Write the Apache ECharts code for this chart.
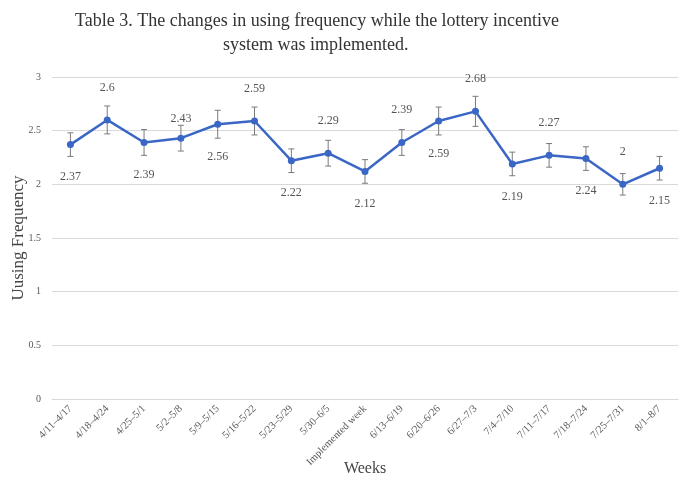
<!DOCTYPE html>
<html>
<head>
<meta charset="utf-8">
<script src="https://cdn.jsdelivr.net/npm/echarts@6/dist/echarts.min.js"></script>
<style>
  html, body { margin: 0; padding: 0; background: #fff; }
  #chart { width: 693px; height: 482px; }
</style>
</head>
<body>
<div id="chart"></div>
<script>
const weeks = ['4/11–4/17', '4/18–4/24', '4/25–5/1', '5/2–5/8', '5/9–5/15', '5/16–5/22', '5/23–5/29',
  '5/30–6/5', 'Implemented week', '6/13–6/19', '6/20–6/26', '6/27–7/3', '7/4–7/10', '7/11–7/17',
  '7/18–7/24', '7/25–7/31', '8/1–8/7'];
const means = [2.37, 2.6, 2.39, 2.43, 2.56, 2.59, 2.22, 2.29, 2.12, 2.39, 2.59, 2.68, 2.19, 2.27, 2.24, 2, 2.15];
// half-length of each error bar
const errors = [0.11, 0.13, 0.12, 0.12, 0.13, 0.13, 0.11, 0.12, 0.11, 0.12, 0.13, 0.14, 0.11, 0.11, 0.11, 0.10, 0.11];
const yTicks = [0, 0.5, 1, 1.5, 2, 2.5, 3];

const serif = '"Liberation Serif", "DejaVu Serif", serif';
const lineColor = '#3a67c5';

const chart = echarts.init(document.getElementById('chart'));

const errorData = means.map((m, i) => [i, m - errors[i], m + errors[i]]);

chart.setOption({
  backgroundColor: '#ffffff',
  animation: false,
  title: [
    {
      text: 'Table 3. The changes in using frequency while the lottery incentive',
      left: 70, top: 7,
      textStyle: { fontFamily: serif, fontSize: 18, fontWeight: 'normal', color: '#333' }
    },
    {
      text: 'system was implemented.',
      left: 218, top: 31,
      textStyle: { fontFamily: serif, fontSize: 18, fontWeight: 'normal', color: '#333' }
    }
  ],
  grid: { left: 52, right: 15, top: 77, bottom: 83, outerBoundsMode: 'none', containLabel: false },
  xAxis: {
    type: 'category',
    data: weeks,
    boundaryGap: true,
    name: 'Weeks',
    nameLocation: 'middle',
    nameGap: 62,
    nameMoveOverlap: false,
    nameTextStyle: { fontFamily: serif, fontSize: 16, color: '#444' },
    axisLine: { lineStyle: { color: '#d9d9d9', width: 1 } },
    axisTick: { show: false },
    axisLabel: {
      rotate: 45, interval: 0, margin: 8,
      fontFamily: serif, fontSize: 10.5, color: '#595959'
    }
  },
  yAxis: {
    type: 'value',
    min: 0, max: 3, interval: 0.5,
    name: 'Uusing Frequency',
    nameLocation: 'middle',
    nameGap: 25,
    nameMoveOverlap: false,
    nameTextStyle: { fontFamily: serif, fontSize: 17, color: '#444' },
    axisLine: { show: false },
    axisTick: { show: false },
    splitLine: { lineStyle: { color: '#d9d9d9', width: 1 } },
    axisLabel: {
      margin: 11, fontFamily: serif, fontSize: 10, color: '#595959',
      formatter: v => (yTicks.includes(v) ? String(v) : '')
    }
  },
  series: [
    {
      type: 'custom',
      z: 1,
      data: errorData,
      renderItem: function (params, api) {
        const x = api.value(0);
        const lo = api.coord([x, api.value(1)]);
        const hi = api.coord([x, api.value(2)]);
        const cap = 3;
        const style = { stroke: '#7a7a7a', lineWidth: 1 };
        return {
          type: 'group',
          children: [
            { type: 'line', shape: { x1: hi[0], y1: hi[1], x2: lo[0], y2: lo[1] }, style: style },
            { type: 'line', shape: { x1: hi[0] - cap, y1: hi[1], x2: hi[0] + cap, y2: hi[1] }, style: style },
            { type: 'line', shape: { x1: lo[0] - cap, y1: lo[1], x2: lo[0] + cap, y2: lo[1] }, style: style }
          ]
        };
      }
    },
    {
      type: 'line',
      z: 2,
      symbol: 'circle',
      symbolSize: 7,
      lineStyle: { color: lineColor, width: 2.5 },
      itemStyle: { color: lineColor },
      data: means.map((v, i) => ({
        value: v,
        label: {
          show: true,
          position: i % 2 === 0 ? 'bottom' : 'top',
          distance: i === 3 ? 10 : 23
        }
      })),
      label: {
        fontFamily: serif, fontSize: 12, color: '#555'
      }
    }
  ]
});
</script>
</body>
</html>
